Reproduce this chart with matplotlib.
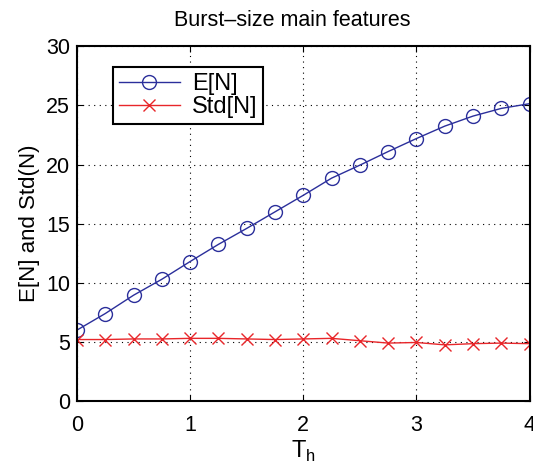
import matplotlib
matplotlib.use('Agg')
import matplotlib.pyplot as plt

plt.rcParams['font.family'] = ['Liberation Sans', 'DejaVu Sans']

th = [0, 0.25, 0.5, 0.75, 1, 1.25, 1.5, 1.75, 2, 2.25, 2.5, 2.75, 3, 3.25, 3.5, 3.75, 4]
mean_n = [6.0, 7.4, 8.95, 10.3, 11.8, 13.25, 14.6, 16.0, 17.4, 18.85, 19.95, 21.1, 22.2, 23.25, 24.1, 24.75, 25.15]
std_n = [5.2, 5.2, 5.25, 5.25, 5.3, 5.3, 5.25, 5.2, 5.25, 5.3, 5.1, 4.9, 4.95, 4.75, 4.85, 4.9, 4.85]

fig = plt.figure(figsize=(5.33, 4.71), dpi=100)
ax = fig.add_axes([0.1445, 0.1486, 0.849, 0.753])

ax.plot(th, mean_n, color='#2b2f9b', lw=1, marker='o', markersize=10,
        markerfacecolor='none', markeredgewidth=1, label='E[N]')
ax.plot(th, std_n, color='#e8262a', lw=1, marker='x', markersize=8,
        markeredgewidth=1, label='Std[N]')

ax.set_xlim(0, 4)
ax.set_ylim(0, 30)
ax.set_xticks([0, 1, 2, 3, 4])
ax.set_yticks([0, 5, 10, 15, 20, 25, 30])
ax.grid(True, linestyle=(0, (1, 4)), color='black', linewidth=0.8)
ax.tick_params(direction='in', labelsize=15.5, top=True, right=True, length=4)
ax.tick_params(axis='x', pad=10)
ax.tick_params(axis='y', pad=5)
for s in ax.spines.values():
    s.set_linewidth(1.5)

ax.set_title('Burst\u2013size main features', fontsize=15.5, pad=15, x=0.475)
ax.set_xlabel('T$_\\mathregular{h}$', fontsize=17, labelpad=2)
ax.set_ylabel('E[N] and Std(N)', fontsize=16, labelpad=4)

leg = ax.legend(loc='upper left', bbox_to_anchor=(0.079, 0.941), fontsize=17,
                fancybox=False, edgecolor='black', framealpha=1,
                handlelength=2.6, borderpad=0.25, labelspacing=0.05,
                handletextpad=0.5, borderaxespad=0)
leg.get_frame().set_linewidth(1.5)

fig.savefig('out.png', dpi=100)
